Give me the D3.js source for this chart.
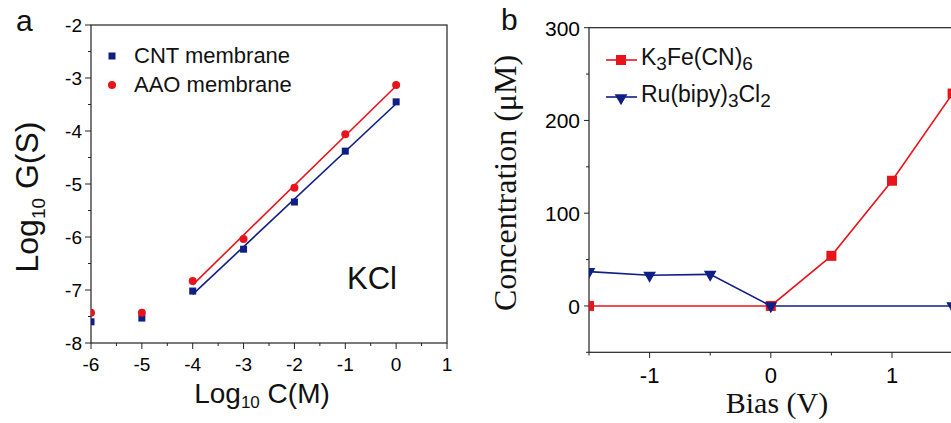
<!DOCTYPE html>
<html><head><meta charset="utf-8">
<script src="https://cdn.jsdelivr.net/npm/d3@7"></script>
<style>
body{margin:0;background:#fff;}
svg{display:block;}
</style></head>
<body>
<svg id="chart" width="951" height="423"></svg>
<script>
// ---------- Panel a data ----------
const logC = [-6, -5, -4, -3, -2, -1, 0];
const cntG = [-7.60, -7.53, -7.02, -6.23, -5.34, -4.38, -3.45];
const aaoG = [-7.43, -7.43, -6.83, -6.04, -5.07, -4.06, -3.13];
const fitFrom = -4; // fit range start
const aXTicks = [-6, -5, -4, -3, -2, -1, 0, 1];
const aYTicks = [-8, -7, -6, -5, -4, -3, -2];
const aLegend = ["CNT membrane", "AAO membrane"];

// ---------- Panel b data ----------
const biasRed = [-1.5, 0, 0.5, 1, 1.5];
const k3fe = [0, 0, 54, 135, 229];
const biasBlue = [-1.5, -1, -0.5, 0, 1.5];
const rubipy = [37, 33, 34, 0, 0];
const bXTicks = [-1, 0, 1];
const bYTicks = [0, 100, 200, 300];

const NAVY = "#0f1f84", RED = "#e8141c", AX = "#222";
const svg = d3.select("#chart");
const sans = "'Liberation Sans', Arial, sans-serif";
const serif = "'Liberation Serif', 'Times New Roman', serif";

// ===== Panel a =====
const xa = d3.scaleLinear().domain([-6, 1]).range([91, 447]);
const ya = d3.scaleLinear().domain([-8, -2]).range([343, 25]);
const ga = svg.append("g");
ga.append("clipPath").attr("id","clipA").append("rect")
  .attr("x", 91).attr("y", 25).attr("width", 356).attr("height", 318);

// minor ticks
const aXMinor = d3.range(-5.5, 1, 1);
const aYMinor = d3.range(-7.5, -2, 1);
ga.selectAll(".axm").data(aXMinor).join("line")
  .attr("x1", d=>xa(d)).attr("x2", d=>xa(d)).attr("y1", 343).attr("y2", 346)
  .attr("stroke", AX).attr("stroke-width", 1);
ga.selectAll(".axM").data(aXTicks).join("line")
  .attr("x1", d=>xa(d)).attr("x2", d=>xa(d)).attr("y1", 343).attr("y2", 349)
  .attr("stroke", AX).attr("stroke-width", 1);
ga.selectAll(".aym").data(aYMinor).join("line")
  .attr("y1", d=>ya(d)).attr("y2", d=>ya(d)).attr("x1", 88).attr("x2", 91)
  .attr("stroke", AX).attr("stroke-width", 1);
ga.selectAll(".ayM").data(aYTicks).join("line")
  .attr("y1", d=>ya(d)).attr("y2", d=>ya(d)).attr("x1", 85).attr("x2", 91)
  .attr("stroke", AX).attr("stroke-width", 1);
// frame
ga.append("rect").attr("x", 91).attr("y", 25).attr("width", 356).attr("height", 318)
  .attr("fill", "none").attr("stroke", AX).attr("stroke-width", 1.2);

// tick labels
ga.selectAll(".axl").data(aXTicks).join("text")
  .attr("x", d=>xa(d)).attr("y", 371).attr("text-anchor", "middle")
  .attr("font-family", sans).attr("font-size", 19).text(d=>String(d));
ga.selectAll(".ayl").data(aYTicks).join("text")
  .attr("x", 82).attr("y", d=>ya(d)+7).attr("text-anchor", "end")
  .attr("font-family", sans).attr("font-size", 19).text(d=>String(d));

// fit lines (least squares over fit range)
function fit(xs, ys) {
  const pts = xs.map((x,i)=>[x, ys[i]]).filter(p=>p[0] >= fitFrom);
  const mx = d3.mean(pts, p=>p[0]), my = d3.mean(pts, p=>p[1]);
  const sxy = d3.sum(pts, p=>(p[0]-mx)*(p[1]-my)), sxx = d3.sum(pts, p=>(p[0]-mx)**2);
  const m = sxy/sxx, b = my - m*mx;
  const x0 = d3.min(pts, p=>p[0]), x1 = d3.max(pts, p=>p[0]);
  return [[x0, m*x0+b], [x1, m*x1+b]];
}
const la = d3.line().x(d=>xa(d[0])).y(d=>ya(d[1]));
const plotA = ga.append("g").attr("clip-path", "url(#clipA)");
plotA.append("path").attr("d", la(fit(logC, cntG))).attr("stroke", NAVY)
  .attr("stroke-width", 1.6).attr("fill", "none");
plotA.append("path").attr("d", la(fit(logC, aaoG))).attr("stroke", RED)
  .attr("stroke-width", 1.6).attr("fill", "none");
plotA.selectAll(".cnt").data(logC).join("rect")
  .attr("x", (d)=>xa(d)-3.5).attr("y", (d,i)=>ya(cntG[i])-3.5)
  .attr("width", 7).attr("height", 7).attr("fill", NAVY);
plotA.selectAll(".aao").data(logC).join("circle")
  .attr("cx", d=>xa(d)).attr("cy", (d,i)=>ya(aaoG[i])).attr("r", 4)
  .attr("fill", RED);

// legend a
ga.append("rect").attr("x", 108.5).attr("y", 52.5).attr("width", 7).attr("height", 7).attr("fill", NAVY);
ga.append("circle").attr("cx", 112).attr("cy", 85).attr("r", 4).attr("fill", RED);
ga.append("text").attr("x", 134).attr("y", 63).attr("font-family", sans).attr("font-size", 22)
  .attr("fill", "#111").text(aLegend[0]);
ga.append("text").attr("x", 134).attr("y", 92).attr("font-family", sans).attr("font-size", 22)
  .attr("fill", "#111").text(aLegend[1]);
ga.append("text").attr("x", 347).attr("y", 289).attr("font-family", sans).attr("font-size", 31)
  .attr("fill", "#111").text("KCl");

// axis titles a
const xt = ga.append("text").attr("x", 262).attr("y", 403).attr("text-anchor", "middle")
  .attr("font-family", sans).attr("font-size", 28).attr("fill", "#111");
xt.append("tspan").text("Log");
xt.append("tspan").attr("font-size", 17).attr("dy", 5).text("10");
xt.append("tspan").attr("dy", -5).text(" C(M)");
const yt = ga.append("text").attr("transform", "translate(38,197) rotate(-90)").attr("text-anchor", "middle")
  .attr("font-family", sans).attr("font-size", 32).attr("fill", "#111");
yt.append("tspan").text("Log");
yt.append("tspan").attr("font-size", 19).attr("dy", 7).text("10");
yt.append("tspan").attr("dy", -7).text(" G(S)");
ga.append("text").attr("x", 16).attr("y", 31).attr("font-family", sans).attr("font-size", 30)
  .attr("fill", "#111").text("a");

// ===== Panel b =====
const xb = d3.scaleLinear().domain([-1.5, 2]).range([589, 1013.2]);
const yb = d3.scaleLinear().domain([-50, 300]).range([352.3, 27.7]);
const gb = svg.append("g");
gb.append("clipPath").attr("id","clipB").append("rect")
  .attr("x", 589).attr("y", 27.7).attr("width", 424).attr("height", 324.6);

const bXMinor = [-1.5, -0.5, 0.5, 1.5];
const bYMinor = [-50, 50, 150, 250];
gb.selectAll(".bxm").data(bXMinor).join("line")
  .attr("x1", d=>xb(d)).attr("x2", d=>xb(d)).attr("y1", 352.3).attr("y2", 355.5)
  .attr("stroke", AX).attr("stroke-width", 1);
gb.selectAll(".bxM").data(bXTicks).join("line")
  .attr("x1", d=>xb(d)).attr("x2", d=>xb(d)).attr("y1", 352.3).attr("y2", 358)
  .attr("stroke", AX).attr("stroke-width", 1);
gb.selectAll(".bym").data(bYMinor).join("line")
  .attr("y1", d=>yb(d)).attr("y2", d=>yb(d)).attr("x1", 586).attr("x2", 589)
  .attr("stroke", AX).attr("stroke-width", 1);
gb.selectAll(".byM").data(bYTicks).join("line")
  .attr("y1", d=>yb(d)).attr("y2", d=>yb(d)).attr("x1", 584).attr("x2", 589)
  .attr("stroke", AX).attr("stroke-width", 1);
gb.append("rect").attr("x", 589).attr("y", 27.7).attr("width", 424).attr("height", 324.6)
  .attr("fill", "none").attr("stroke", AX).attr("stroke-width", 1.2);

gb.selectAll(".bxl").data(bXTicks).join("text")
  .attr("x", d=>xb(d)).attr("y", 383).attr("text-anchor", "middle")
  .attr("font-family", sans).attr("font-size", 22).text(d=>String(d));
gb.selectAll(".byl").data(bYTicks).join("text")
  .attr("x", 580).attr("y", d=>yb(d)+8).attr("text-anchor", "end")
  .attr("font-family", sans).attr("font-size", 21).text(d=>String(d));

const lb = d3.line().x(d=>xb(d[0])).y(d=>yb(d[1]));
const plotB = gb.append("g").attr("clip-path", "url(#clipB)");
plotB.append("path").attr("d", lb(biasRed.map((x,i)=>[x, k3fe[i]])))
  .attr("stroke", RED).attr("stroke-width", 1.6).attr("fill", "none");
plotB.append("path").attr("d", lb(biasBlue.map((x,i)=>[x, rubipy[i]])))
  .attr("stroke", NAVY).attr("stroke-width", 1.6).attr("fill", "none");
plotB.selectAll(".rsq").data(biasRed).join("rect")
  .attr("x", d=>xb(d)-5).attr("y", (d,i)=>yb(k3fe[i])-5)
  .attr("width", 10).attr("height", 10).attr("fill", RED);
const tri = d3.symbol().type(d3.symbolTriangle).size(70);
plotB.selectAll(".btri").data(biasBlue).join("path")
  .attr("d", tri)
  .attr("transform", (d,i)=>`translate(${xb(d)},${yb(rubipy[i])}) rotate(180)`)
  .attr("fill", NAVY);

// legend b
gb.append("line").attr("x1", 606).attr("x2", 637).attr("y1", 60).attr("y2", 60)
  .attr("stroke", RED).attr("stroke-width", 1.6);
gb.append("rect").attr("x", 616).attr("y", 55).attr("width", 10).attr("height", 10).attr("fill", RED);
gb.append("line").attr("x1", 606).attr("x2", 637).attr("y1", 97).attr("y2", 97)
  .attr("stroke", NAVY).attr("stroke-width", 1.6);
gb.append("path").attr("d", tri).attr("transform", "translate(621,98) rotate(180)").attr("fill", NAVY);
const l1 = gb.append("text").attr("x", 641).attr("y", 65).attr("font-family", sans)
  .attr("font-size", 23).attr("fill", "#111");
l1.append("tspan").text("K");
l1.append("tspan").attr("font-size", 19).attr("dy", 5).text("3");
l1.append("tspan").attr("dy", -5).text("Fe(CN)");
l1.append("tspan").attr("font-size", 19).attr("dy", 5).text("6");
const l2 = gb.append("text").attr("x", 641).attr("y", 102).attr("font-family", sans)
  .attr("font-size", 23).attr("fill", "#111");
l2.append("tspan").text("Ru(bipy)");
l2.append("tspan").attr("font-size", 19).attr("dy", 5).text("3");
l2.append("tspan").attr("dy", -5).text("Cl");
l2.append("tspan").attr("font-size", 19).attr("dy", 5).text("2");

gb.append("text").attr("x", 777).attr("y", 413).attr("text-anchor", "middle")
  .attr("font-family", serif).attr("font-size", 30).attr("fill", "#111").text("Bias (V)");
gb.append("text").attr("transform", "translate(516,183) rotate(-90)").attr("text-anchor", "middle")
  .attr("font-family", serif).attr("font-size", 32).attr("fill", "#111").text("Concentration (\u03BCM)");
gb.append("text").attr("x", 501).attr("y", 30).attr("font-family", sans).attr("font-size", 30)
  .attr("fill", "#111").text("b");
</script>
</body></html>
